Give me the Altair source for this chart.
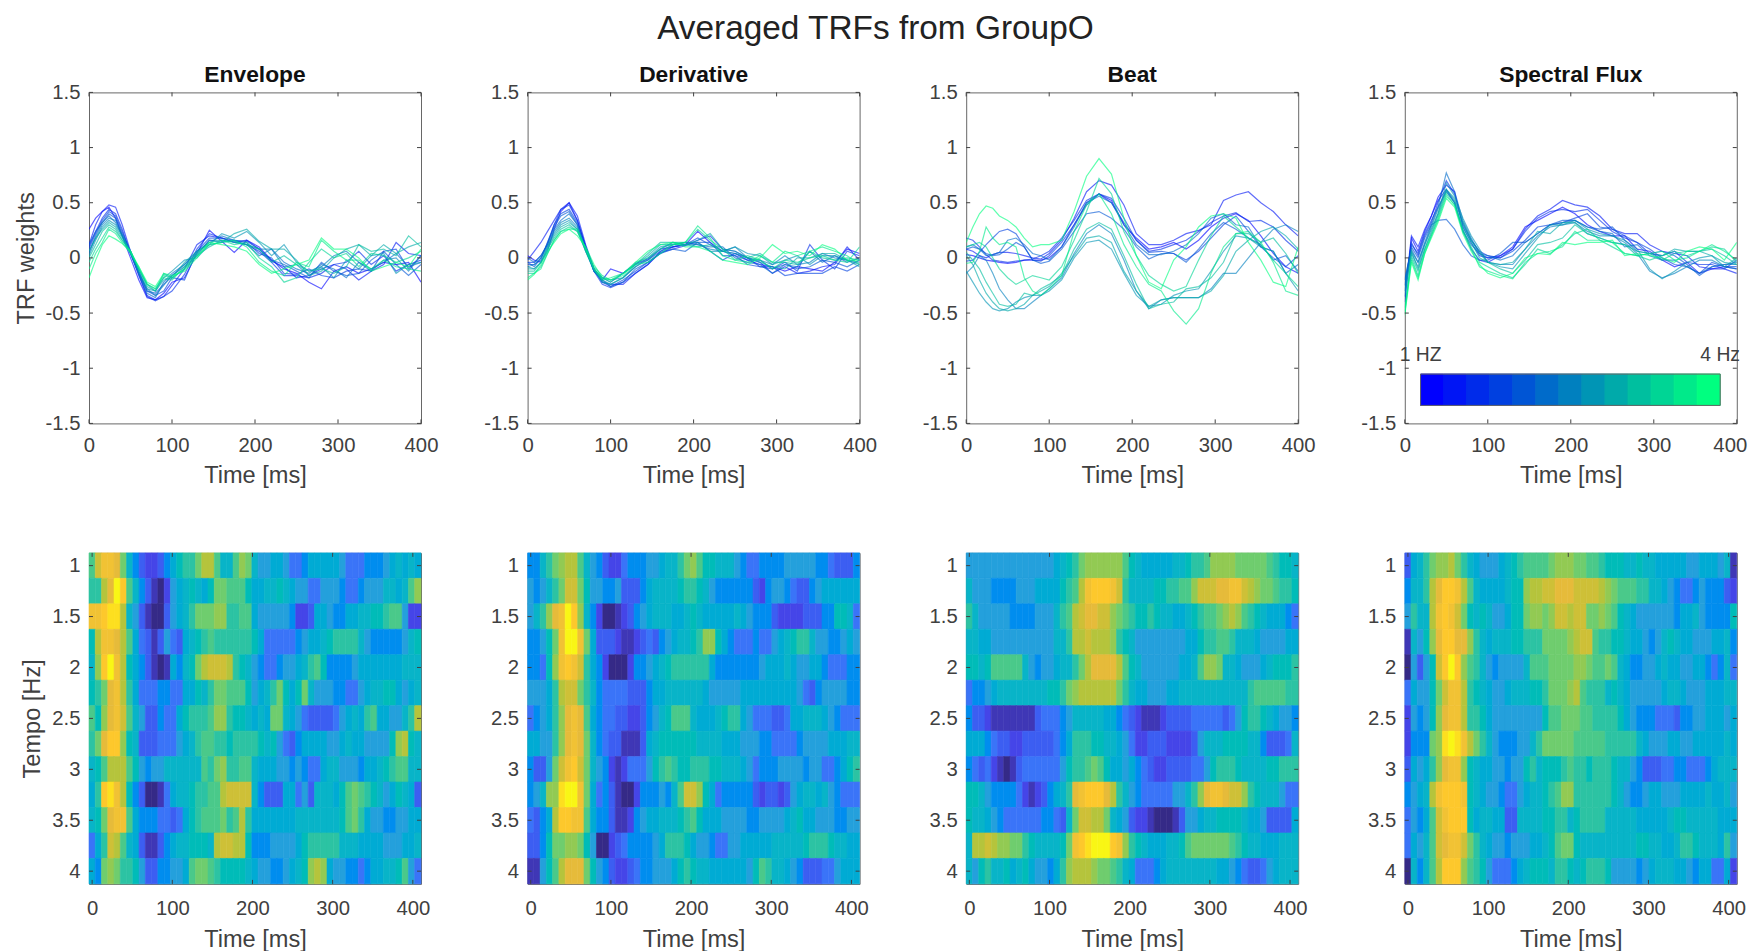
import altair as alt
import pandas as pd

alt.data_transformers.disable_max_rows()

FONT = "Liberation Sans"
INK = "#404040"
FRAME = "#666666"

PANELS = ["Envelope", "Derivative", "Beat", "Spectral Flux"]
TEMPI = [1, 1.25, 1.5, 1.75, 2, 2.25, 2.5, 2.75, 3, 3.25, 3.5, 3.75, 4]
STEP_MS = 7.8125

# Colours of the thirteen tempo lines, slow to fast
LINE_COLORS = ["#0000ff", "#0015f5", "#002bea", "#0040e0", "#0055d5", "#006bca", "#0080bf",
               "#0095b5", "#00aaaa", "#00bf9f", "#00d595", "#00ea8a", "#00ff80"]

# Parula-like ramp for the heat maps
LEVELS = [0, 2, 4, 6, 8, 10, 12, 14, 16, 18, 20]
RAMP = ["#352a87", "#4545e8", "#3a74f8", "#24a0dc", "#08b4c8", "#2cc3a3",
        "#6fcd6e", "#b5c43c", "#e6bb3a", "#fdc82c", "#f9f615"]

# Time knots (ms) at which the line traces were read
KNOTS = [0, 8, 16, 24, 32, 40, 50, 60, 70, 80, 90, 100, 115, 130, 145, 160, 175, 190, 205, 220,
         235, 250, 265, 280, 295, 310, 325, 340, 355, 370, 385, 400]

# TRF weights x 100, one list per tempo
ENVELOPE_LINES = [
 [26,36,42,46,36,20,0,-20,-36,-38,-32,-22,-18,4,25,15,5,16,10,-2,-10,-14,-22,-28,-12,-8,-14,-10,-4,-6,-4,-22],
 [12,30,42,48,46,30,6,-15,-34,-38,-35,-25,-10,12,20,18,14,16,8,-3,-8,-18,-16,-10,-6,-10,-20,-12,-6,14,4,2],
 [10,24,36,44,40,26,4,-16,-35,-39,-35,-30,-15,8,22,18,14,12,6,-4,-16,-16,-18,-14,-6,-4,6,-6,2,-12,-6,-2],
 [8,22,34,42,38,24,5,-14,-30,-34,-30,-18,-20,6,18,18,16,14,4,0,-14,-15,-10,-16,-18,-12,-10,-12,6,8,-10,2],
 [12,24,32,40,36,22,6,-12,-30,-32,-24,-16,-8,2,16,14,16,15,8,-2,-6,-12,-18,-4,-12,-16,-14,-2,6,-6,-16,-6],
 [4,20,32,38,32,20,4,-14,-32,-36,-22,-14,-6,6,14,20,16,12,2,8,-4,-10,-14,-6,-10,-18,-4,-10,-4,4,-8,-4],
 [6,18,30,36,34,20,4,-14,-28,-34,-25,-16,-6,4,16,16,15,12,8,8,-8,-6,-16,-8,2,6,-4,-12,-2,0,-12,2],
 [2,16,28,34,30,20,6,-12,-28,-30,-18,-12,-2,0,12,22,18,24,14,2,12,-4,-12,-8,-18,-2,-10,2,4,-14,-6,-4],
 [6,18,26,32,28,18,6,-10,-26,-30,-20,-18,-4,6,12,14,22,26,15,8,8,-2,-16,-12,0,8,12,2,12,4,10,14],
 [0,12,24,30,26,16,6,-10,-24,-30,-14,-18,-10,2,10,16,14,12,8,-4,2,-6,-12,-10,-14,-8,12,6,8,2,20,10],
 [-4,8,18,28,24,16,6,-10,-24,-28,-18,-20,-8,4,14,16,12,14,0,-8,-22,-18,-4,8,0,4,-8,4,2,-4,0,6],
 [-10,4,14,26,22,14,4,-8,-24,-28,-16,-18,-10,2,12,14,16,10,-4,-12,-16,-4,-8,16,6,-2,-2,-10,-2,-8,-10,-12],
 [-18,-2,12,20,17,13,6,-8,-22,-26,-14,-16,-12,0,14,12,10,6,-6,-14,-10,-6,-2,18,8,8,0,-12,-8,-4,-8,8],
]
DERIVATIVE_LINES = [
 [2,-2,-4,6,26,42,50,34,10,-12,-20,-10,-14,-5,-1,8,10,12,24,14,6,4,-2,-6,-8,-12,-8,-10,-12,-4,8,4],
 [-2,6,14,24,34,44,50,38,12,-10,-22,-24,-24,-14,-6,5,8,11,16,20,8,6,0,-4,-14,-8,-14,-12,-8,-6,10,-2],
 [-4,-4,2,12,30,44,48,34,10,-12,-24,-27,-22,-14,-6,6,10,12,14,6,-2,4,0,-8,-10,-4,-12,12,-2,-10,6,2],
 [-6,-6,-2,14,30,40,44,32,10,-10,-22,-26,-20,-12,-4,4,10,12,18,12,6,2,-6,-8,-8,-16,-14,-14,-14,-8,-12,-6],
 [-4,-8,0,14,28,38,42,30,8,-12,-20,-26,-22,-10,-4,4,8,6,14,14,2,2,-2,-2,-10,-6,-10,-8,-2,-4,-8,-2],
 [0,-4,2,12,26,34,40,30,8,-12,-18,-22,-14,-6,-2,6,12,14,12,10,10,0,-4,-6,-14,-6,-8,6,-4,2,-4,0],
 [-8,-6,0,10,24,32,36,28,6,-10,-18,-20,-18,-8,-2,8,14,12,12,8,6,10,0,-2,-6,2,-6,-4,4,0,-2,-6],
 [-8,-10,-4,10,22,30,34,26,6,-12,-20,-24,-18,-8,0,10,12,14,14,6,6,10,4,2,-6,-2,2,-6,2,2,-2,-4],
 [-10,-10,-4,8,20,28,32,26,8,-10,-22,-24,-18,-6,2,12,12,12,16,22,8,6,0,-4,-8,-10,0,0,4,4,-2,-8],
 [-12,-12,-4,8,18,26,30,24,6,-10,-18,-22,-14,-6,4,14,14,12,10,12,6,4,0,4,-4,-4,-6,6,0,-2,0,-2],
 [-14,-14,-8,4,16,24,28,24,8,-8,-16,-20,-14,-4,0,8,14,14,26,16,8,-2,2,-2,-10,-2,-4,0,2,-2,-4,10],
 [-18,-14,-10,4,16,24,26,26,8,-10,-20,-18,-14,-6,-4,4,12,14,29,18,2,-2,-4,2,-4,6,2,6,10,6,2,-6],
 [-20,-15,-6,6,14,22,26,20,10,-6,-18,-20,-16,-4,6,12,14,10,10,6,-2,-4,-6,0,12,4,6,2,12,8,-2,-2],
]
BEAT_LINES = [
 [3,2,0,-2,-3,-4,-5,-4,-2,-2,-2,0,10,30,48,58,52,30,18,8,10,14,8,16,28,36,40,34,20,4,-8,-14],
 [8,6,2,0,3,5,5,4,2,0,-1,4,16,36,60,70,66,48,22,12,12,16,22,25,30,52,57,60,50,42,30,20],
 [18,16,10,3,-2,-3,-4,-3,-2,-1,2,6,18,34,52,58,50,32,16,6,8,12,16,24,32,38,41,33,34,28,16,6],
 [-3,-2,5,12,18,24,26,22,10,-2,-3,2,14,30,50,58,54,36,16,5,6,4,-2,6,18,30,38,24,10,0,-8,2],
 [8,10,8,4,2,3,8,14,10,-2,-5,-3,8,24,40,42,36,26,10,-1,4,4,-4,8,22,32,26,18,12,-2,2,-12],
 [10,12,8,2,3,5,16,18,12,4,2,-2,10,28,50,56,50,30,12,3,3,6,12,22,36,40,30,28,10,6,-14,-6],
 [-14,-8,2,-2,-14,-28,-38,-46,-46,-40,-34,-28,-18,4,22,30,22,-2,-30,-46,-38,-36,-36,-36,-28,-14,-14,0,14,26,30,24],
 [-12,-22,-32,-40,-46,-48,-46,-40,-36,-34,-34,-30,-20,0,14,16,8,-14,-34,-44,-42,-34,-30,-28,-12,6,20,18,10,6,-14,-30],
 [2,-6,-20,-32,-40,-46,-48,-46,-42,-34,-30,-26,-14,2,18,20,14,-12,-30,-44,-38,-36,-36,-36,-30,-16,6,16,24,28,20,8],
 [5,-2,-10,-22,-32,-42,-44,-42,-32,-34,-28,-24,-16,8,26,32,26,2,-24,-46,-42,-40,-28,-26,-18,-4,22,22,14,18,4,-14],
 [10,12,14,10,0,-10,-18,-24,-20,-16,-18,-20,-8,16,42,72,58,24,2,-16,-24,-30,-26,-2,20,38,28,18,12,-2,-14,-26],
 [-5,-4,6,28,18,12,14,10,-18,-30,-34,-28,-16,24,48,58,40,12,-8,-24,-30,-48,-60,-46,-14,10,22,24,14,-4,-30,-34],
 [14,28,40,47,45,38,34,28,18,10,12,12,16,42,74,90,76,36,2,-22,-28,-2,10,28,38,40,36,14,-2,-22,-26,10],
]
FLUX_LINES = [
 [-40,18,6,24,38,55,66,60,28,14,2,0,2,10,28,34,40,46,40,30,24,20,20,8,6,-2,-8,-4,-14,-10,-8,-10],
 [-35,20,10,26,38,52,62,50,25,8,-2,-4,2,8,26,38,44,52,48,46,38,26,22,22,12,6,4,2,-8,-10,-10,-14],
 [-30,14,2,20,32,50,70,58,30,16,6,2,0,8,24,36,42,44,42,44,34,24,18,14,4,2,6,-4,-6,-6,-10,-2],
 [-25,12,4,22,34,46,60,50,24,12,4,0,0,6,16,28,30,32,36,40,28,26,20,14,8,0,-6,-8,-14,-4,-8,-8],
 [-20,10,0,18,30,34,35,26,12,2,-2,-2,4,14,14,22,30,34,34,28,26,28,16,6,4,6,2,-6,-16,-8,-6,-4],
 [-20,8,-4,14,30,46,77,60,34,18,4,2,-2,2,14,22,30,32,34,28,24,22,10,12,2,-2,-2,-8,-14,-8,-6,-6],
 [-25,6,-4,12,28,44,62,52,32,16,6,-4,-6,-6,8,20,28,30,32,24,20,20,14,4,-12,-18,-14,-8,-2,-2,-8,-10],
 [-30,4,-8,12,26,40,68,56,36,20,8,-4,-8,-10,4,18,30,30,34,26,22,20,16,8,-10,-19,-12,-4,0,2,-8,0],
 [-35,6,-10,8,24,40,62,54,32,16,4,-4,-6,-4,8,24,22,32,32,22,18,14,12,2,4,2,8,6,6,2,-4,-6],
 [-45,2,-12,8,22,38,60,50,28,14,0,-4,-10,-14,-2,12,14,18,30,22,18,14,12,6,4,-2,4,6,6,8,2,-6],
 [-48,0,-16,6,20,36,58,48,26,10,-4,-8,-14,-18,-6,8,4,12,22,26,16,10,4,2,-2,2,6,2,6,10,8,-4],
 [-50,-2,-18,4,20,34,56,48,24,8,-8,-12,-16,-19,-4,4,6,10,24,16,16,14,4,2,4,6,-2,0,6,12,6,-2],
 [-52,-4,-20,4,18,32,54,46,22,6,-6,-14,-18,-14,0,4,3,14,12,14,14,16,2,4,2,0,-4,6,10,8,-2,14],
]

# Heat-map colour levels, one list per tempo row, 53 time columns
ENVELOPE_HEAT = [
 [11,15,17,17,16, 12,8,5,3,2, 2,3,5,7,9, 10,10,12,14,14, 11,8,8,11,13, 12,8,6,6,7, 7,6,4,4,5, 7,7,7,7,7, 6,4,4,4,5, 5,5,6,7,8, 7,8,7],
 [10,10,14,16,20, 18,11,8,5,3, 1,0,2,6,7, 8,9,8,7,9, 12,12,11,11,11, 9,7,7,8,8, 9,8,7,6,6, 4,4,6,6,6, 5,4,4,5,6, 6,6,8,8,7, 8,11,13],
 [17,17,18,19,19, 14,8,6,3,1, 0,0,3,6,7, 8,10,12,12,12, 13,13,10,10,11, 11,7,6,6,6, 6,6,5,2,2, 3,7,7,6,5, 5,7,7,8,8, 9,9,10,11,11, 6,2,2],
 [9,14,17,17,16, 14,11,7,4,3, 1,3,6,4,3, 7,8,9,10,11, 10,10,10,10,10, 10,9,7,4,4, 4,4,4,5,6, 7,7,8,9,10, 10,10,10,8,6, 5,5,5,5,5, 6,8,9],
 [8,13,18,20,17, 14,9,7,5,3, 1,0,1,7,5, 8,9,12,14,15, 15,15,14,10,9, 8,6,5,4,4, 5,6,6,7,8, 10,11,9,5,5, 5,5,6,7,7, 7,7,7,7,7, 8,8,8],
 [9,10,12,16,17, 14,10,7,4,4, 4,5,5,4,4, 7,7,9,8,10, 12,12,11,11,11, 9,6,7,8,10, 12,9,7,9,12, 8,6,6,6,5, 5,4,4,6,7, 8,8,9,9,7, 6,7,8],
 [11,9,13,16,17, 15,11,8,6,3, 3,5,4,4,7, 9,10,10,10,11, 13,13,10,9,9, 8,7,8,7,12, 12,8,7,6,4, 3,3,3,3,4, 6,7,8,7,10, 11,7,7,6,6, 8,10,14],
 [10,12,16,18,18, 13,9,8,3,3, 3,4,4,4,6, 7,8,10,11,11, 10,10,9,10,10, 10,10,9,8,9, 6,4,3,5,7, 7,7,7,6,6, 7,8,7,7,6, 6,6,6,9,13, 14,9,8],
 [8,9,11,14,14, 14,11,9,6,5, 6,6,8,8,8, 8,8,8,11,10, 12,13,10,10,11, 11,8,7,7,7, 6,6,5,6,5, 4,4,7,8,8, 6,6,6,5,7, 7,8,9,10,11, 11,8,8],
 [7,10,18,19,17, 14,9,5,3,0, 0,1,4,7,8, 8,9,10,10,11, 11,14,15,15,15, 15,8,5,3,3, 3,7,7,4,6, 3,8,8,8,7, 9,11,12,11,10, 9,8,6,7,9, 8,7,3],
 [8,9,12,16,17, 17,11,7,5,5, 5,4,4,3,4, 7,9,10,11,11, 11,12,10,11,14, 10,7,7,7,7, 7,7,7,8,8, 8,8,8,8,8, 9,11,12,10,7, 6,6,5,5,6, 6,7,7],
 [4,7,10,15,14, 11,8,7,3,1, 1,3,5,7,8, 8,9,9,9,8, 14,15,15,14,14, 9,5,5,5,6, 6,6,6,7,9, 10,10,10,10,10, 8,8,8,7,7, 7,7,6,6,6, 7,7,8],
 [7,5,12,13,12, 10,10,9,6,3, 3,5,5,6,6, 7,11,12,12,11, 10,9,9,9,9, 8,7,6,6,5, 5,6,7,8,9, 13,14,13,7,6, 6,5,5,4,5, 7,7,8,8,9, 11,6,4],
]
DERIVATIVE_HEAT = [
 [5,5,8,10,12, 13,14,14,11,8, 6,5,3,2,2, 4,5,5,5,6, 6,7,8,8,10, 12,13,11,9,9, 8,8,8,6,5, 4,4,5,5,5, 5,6,6,6,6, 6,5,5,4,3, 3,3,5],
 [6,5,6,8,10, 12,15,15,12,9, 6,6,5,5,6, 3,3,3,5,7, 8,8,8,8,9, 10,10,9,8,6, 5,5,5,5,5, 5,3,2,5,6, 6,5,4,3,3, 5,6,7,7,7, 7,7,7],
 [6,8,10,13,16, 17,20,18,13,8, 5,2,0,0,1, 2,3,5,6,7, 8,8,8,7,7, 8,9,8,7,7, 7,7,7,8,7, 6,5,5,5,3, 2,2,2,2,3, 3,3,5,5,9, 9,8,4],
 [5,5,6,9,12, 17,20,20,17,12, 7,3,3,3,2, 1,1,2,3,4, 3,5,6,7,8, 8,9,10,13,13, 9,7,5,4,4, 4,5,4,4,6, 7,8,9,10,10, 8,6,6,5,5, 6,7,6],
 [5,5,4,9,13, 17,18,17,15,10, 7,5,2,0,0, 0,2,5,5,6, 7,8,9,10,10, 10,10,10,10,7, 5,5,5,5,5, 5,5,6,7,7, 7,8,7,6,6, 7,7,5,4,4, 4,5,5],
 [6,6,6,7,10, 14,15,15,12,10, 8,5,4,4,4, 4,3,3,3,5, 7,7,8,8,8, 8,8,8,7,6, 6,6,6,6,7, 7,7,7,7,7, 7,7,7,6,4, 3,5,6,6,6, 6,5,5],
 [4,5,6,7,10, 13,16,17,16,11, 7,5,4,4,3, 3,2,2,3,5, 6,8,9,11,11, 11,8,7,7,7, 8,9,10,10,7, 6,4,4,4,3, 3,4,7,7,8, 8,8,7,6,5, 4,4,4],
 [7,7,6,6,10, 13,16,17,16,12, 8,5,4,3,3, 1,1,1,3,7, 8,9,9,9,9, 9,9,8,8,8, 8,7,7,7,6, 6,6,5,5,4, 4,4,4,5,6, 6,6,6,7,7, 7,8,8],
 [5,3,3,6,12, 15,17,18,15,12, 8,6,5,2,1, 2,4,4,4,6, 9,10,11,10,9, 9,10,10,10,9, 9,8,8,8,7, 6,4,5,5,5, 6,6,6,6,5, 6,6,4,4,5, 7,9,10],
 [5,6,8,13,13, 19,20,20,17,12, 7,4,5,3,1, 0,0,2,5,5, 5,6,5,8,11, 15,15,13,9,7, 4,5,5,5,5, 5,3,2,3,3, 2,3,6,7,8, 8,7,8,6,5, 4,4,4],
 [4,3,5,7,14, 18,18,17,17,11, 7,5,5,3,1, 1,2,5,6,7, 7,8,8,8,9, 10,11,9,7,7, 7,6,6,6,6, 5,5,6,6,6, 6,7,8,9,7, 7,6,6,6,5, 5,6,6],
 [3,3,5,9,12, 12,13,13,12,9, 6,0,0,2,3, 4,5,5,5,5, 6,7,10,10,10, 9,7,6,6,5, 4,4,6,6,7, 7,7,7,7,8, 8,8,8,8,9, 10,10,10,9,8, 8,7,7],
 [1,1,6,9,11, 14,16,16,16,12, 9,6,5,3,2, 2,3,4,5,5, 6,6,6,7,9, 10,9,8,8,7, 7,7,7,7,7, 6,9,11,10,8, 8,7,6,5,3, 3,3,4,4,6, 7,7,7],
]
BEAT_HEAT = [
 [6,6,6,6,6, 6,6,6,6,6, 6,6,6,6,7, 8,9,10,12,13, 13,13,13,13,13, 11,9,8,7,7, 7,7,7,8,8, 9,10,10,11,13, 13,13,13,12,12, 12,12,12,11,10, 9,9,8],
 [8,6,6,6,5, 5,5,5,6,6, 6,7,7,7,7, 9,10,11,14,17, 18,18,18,17,15, 10,8,8,8,8, 9,9,10,10,11, 11,13,15,15,15, 16,16,17,17,15, 14,13,12,12,11, 10,10,9],
 [10,8,6,6,6, 6,6,5,5,5, 5,6,6,6,8, 10,11,14,15,16, 16,15,15,13,12, 11,10,9,9,10, 9,8,8,7,7, 8,9,10,11,11, 12,13,14,13,11, 10,9,8,7,7, 7,5,4],
 [8,8,7,7,6, 6,6,6,6,6, 6,6,6,6,8, 8,10,14,14,15, 14,14,14,13,10, 9,8,6,6,6, 6,6,6,6,6, 7,7,9,10,10, 11,11,10,8,8, 8,7,6,6,6, 6,7,7],
 [9,9,8,9,11, 11,11,11,11,8, 6,5,6,6,7, 8,8,10,12,14, 16,16,16,16,14, 11,9,8,6,6, 6,6,6,6,7, 7,8,11,13,13, 12,8,8,7,6, 6,6,7,8,9, 9,9,10],
 [4,5,5,6,7, 8,8,8,8,8, 8,8,8,9,9, 10,12,13,14,14, 14,14,14,14,12, 10,8,7,7,6, 6,6,7,7,8, 8,8,8,8,8, 8,8,8,8,8, 10,11,11,11,11, 11,10,10],
 [5,3,3,2,1, 1,1,1,1,1, 1,3,4,4,4, 5,6,8,8,8, 8,8,7,7,5, 4,3,2,1,1, 1,2,3,3,3, 3,4,4,4,4, 4,3,4,6,9, 10,10,9,8,7, 6,6,5],
 [7,7,7,5,4, 3,3,2,2,3, 3,3,3,3,4, 5,7,10,10,10, 9,9,8,8,7, 6,4,2,2,3, 3,3,2,2,2, 2,3,6,8,8, 8,9,9,9,9, 8,8,5,3,3, 3,4,8],
 [5,4,3,4,2, 1,0,1,3,4, 4,4,4,4,4, 6,9,10,10,11, 12,11,9,7,7, 6,7,5,4,3, 2,2,3,3,3, 3,4,4,6,9, 10,10,10,9,8, 8,8,8,9,9, 10,10,10],
 [9,9,8,6,5, 5,5,5,4,2, 1,2,3,5,7, 8,10,16,17,18, 18,18,16,14,10, 8,6,5,4,4, 4,4,4,6,6, 8,10,13,16,17, 17,16,15,15,13, 10,9,8,8,8, 6,4,4],
 [9,8,8,7,6, 5,4,4,4,4, 4,4,5,5,4, 3,8,12,15,15, 14,14,12,8,7, 6,3,2,2,1, 0,0,0,1,3, 6,6,7,8,8, 9,9,9,9,8, 7,7,6,3,3, 3,3,7],
 [8,14,14,15,14, 13,13,12,12,10, 9,8,8,8,8, 9,12,17,18,19, 20,20,20,18,17, 13,10,9,8,7, 7,7,8,8,9, 11,12,12,12,12, 12,12,11,10,9, 8,8,7,7,7, 8,8,8],
 [8,6,9,10,8, 8,9,7,8,9, 7,6,6,5,7, 10,13,14,14,14, 13,12,12,11,10, 8,7,4,4,4, 5,7,8,8,8, 8,8,8,8,8, 7,7,6,5,4, 3,3,4,6,7, 8,8,8],
]
FLUX_HEAT = [
 [3,7,8,10,12, 13,13,14,12,10, 8,7,6,6,6, 7,8,9,10,11, 11,11,11,12,13, 13,13,12,12,11, 11,10,9,9,9, 8,8,9,8,8, 7,7,7,7,7, 6,6,7,7,7, 6,8,1],
 [5,8,8,10,14, 16,18,18,17,14, 11,8,7,7,7, 7,8,9,9,13, 14,14,15,15,16, 16,16,15,15,15, 15,14,13,12,11, 11,11,10,10,8, 8,7,6,5,4, 4,5,6,5,5, 5,3,2],
 [6,10,8,8,14, 17,18,17,15,12, 9,8,9,8,6, 6,7,9,9,12, 13,13,12,13,15, 15,14,15,15,12, 12,13,12,11,9, 8,7,6,6,6, 6,6,6,5,7, 7,8,6,5,5, 5,5,9],
 [1,8,6,9,13, 16,18,18,16,16, 13,10,8,7,8, 8,8,9,9,10, 10,10,12,12,12, 12,13,14,15,15, 11,10,10,9,9, 8,7,7,6,5, 6,8,9,8,7, 7,6,6,6,7, 7,8,5],
 [0,6,3,6,9, 15,18,20,18,13, 11,10,8,6,5, 6,6,6,6,8, 11,11,11,12,12, 12,12,13,13,12, 11,11,12,11,8, 7,5,5,6,6, 7,8,7,7,6, 6,7,7,5,4, 5,8,4],
 [4,7,6,6,9, 12,15,17,17,14, 10,9,8,7,6, 6,7,8,8,8, 9,9,10,12,12, 12,13,14,11,10, 10,10,8,9,8, 7,6,6,6,6, 6,7,8,8,7, 6,6,6,7,7, 7,8,8],
 [2,6,5,6,9, 13,16,17,17,14, 10,10,9,7,6, 6,6,6,6,6, 6,6,9,11,11, 12,12,12,11,11, 10,10,10,10,9, 7,6,5,5,5, 4,4,4,3,5, 5,6,6,7,7, 7,6,7],
 [2,5,5,5,12, 13,19,20,19,17, 14,12,10,8,6, 5,5,5,6,6, 8,10,12,12,12, 12,12,11,11,11, 11,11,10,10,10, 10,10,8,7,6, 6,6,7,7,6, 6,7,7,7,7, 7,8,7],
 [3,7,6,7,10, 13,16,17,17,13, 9,8,7,7,6, 6,5,6,6,9, 10,8,9,9,9, 10,11,10,10,9, 10,10,10,9,8, 8,6,5,3,3, 3,4,4,5,5, 4,4,4,5,7, 8,8,8],
 [5,6,7,8,14, 17,18,18,18,17, 9,8,7,6,6, 5,4,4,6,7, 8,8,9,10,11, 13,13,10,10,10, 10,10,10,9,8, 6,5,5,6,7, 7,6,6,6,7, 7,7,7,8,7, 7,8,6],
 [4,6,5,7,11, 15,17,18,18,18, 9,7,8,8,7, 7,3,3,8,8, 8,8,9,9,10, 10,8,9,10,10, 10,10,8,8,8, 8,8,7,7,7, 7,7,8,9,9, 8,8,8,8,8, 7,7,7],
 [4,7,6,8,11, 15,16,17,17,15, 12,10,8,7,6, 6,5,6,6,6, 7,7,8,9,11, 12,12,9,8,8, 8,8,8,8,8, 8,8,9,9,8, 8,7,7,8,10, 10,9,8,8,8, 7,10,6],
 [0,8,5,8,11, 14,18,18,18,13, 11,10,9,6,4, 4,4,5,7,8, 9,9,9,8,10, 10,9,8,9,10, 10,10,9,6,6, 6,6,5,6,7, 8,8,8,7,7, 6,5,7,7,4, 4,7,2],
]

LINES = [ENVELOPE_LINES, DERIVATIVE_LINES, BEAT_LINES, FLUX_LINES]
HEATS = [ENVELOPE_HEAT, DERIVATIVE_HEAT, BEAT_HEAT, FLUX_HEAT]

TIME_TICKS = [0, 100, 200, 300, 400]
WEIGHT_TICKS = [-1.5, -1, -0.5, 0, 0.5, 1, 1.5]
TEMPO_TICKS = [1, 1.5, 2, 2.5, 3, 3.5, 4]

W, H = 332, 331
TICK = 4
LABEL_SIZE = 20.3
TITLE_SIZE = 23.6


def axis(title, ticks, pad, tpad, **extra):
    return alt.Axis(title=title, values=ticks, ticks=False, domain=False, grid=False,
                    labelFont=FONT, labelFontSize=LABEL_SIZE, labelColor=INK, labelPadding=pad,
                    labelExpr="toString(datum.value)", labelFlush=False, labelOverlap=False,
                    titleFont=FONT, titleFontSize=TITLE_SIZE, titleColor=INK, titleFontWeight="normal",
                    titlePadding=tpad, **extra)


def inner_ticks(xs, ys, xa, ya, xticks, yticks):
    tx = pd.DataFrame({"v": xticks})
    ty = pd.DataFrame({"v": yticks})
    sel = alt.X("v:Q", scale=xs, axis=xa)
    sely = alt.Y("v:Q", scale=ys, axis=ya)
    rule = dict(color=INK, strokeWidth=1)
    return [
        alt.Chart(tx).mark_rule(**rule).encode(x=sel, y=alt.value(0), y2=alt.value(TICK)),
        alt.Chart(tx).mark_rule(**rule).encode(x=sel, y=alt.value(H), y2=alt.value(H - TICK)),
        alt.Chart(ty).mark_rule(**rule).encode(y=sely, x=alt.value(0), x2=alt.value(TICK)),
        alt.Chart(ty).mark_rule(**rule).encode(y=sely, x=alt.value(W), x2=alt.value(W - TICK)),
    ]


def line_panel(p):
    rows = []
    for i, curve in enumerate(LINES[p]):
        for t, v in zip(KNOTS, curve):
            rows.append({"t": t, "w": v / 100, "tempo": TEMPI[i]})
    df = pd.DataFrame(rows)
    xs = alt.Scale(domain=[0, 400], nice=False, zero=False)
    ys = alt.Scale(domain=[-1.5, 1.5], nice=False, zero=False)
    # the last label of the last panel is nudged so that the page stays unscaled
    extra = {"labelOffset": {"condition": {"test": "datum.value === 400", "value": -7}, "value": 0}} if p == 3 else {}
    xa = axis("Time [ms]", TIME_TICKS, 12, 8, **extra)
    ya = axis("TRF weights" if p == 0 else None, WEIGHT_TICKS, 9, 7)
    lc = alt.Scale(domain=TEMPI, range=LINE_COLORS)
    lines = alt.Chart(df).mark_line(strokeWidth=1.2, opacity=0.62, clip=True).encode(
        x=alt.X("t:Q", scale=xs, axis=xa),
        y=alt.Y("w:Q", scale=ys, axis=ya),
        color=alt.Color("tempo:O", scale=lc, legend=None),
    )
    layers = [lines] + inner_ticks(xs, ys, xa, ya, TIME_TICKS, WEIGHT_TICKS)
    if p == 3:
        edges = [19, 46.8, 74.5, 102.3, 130.1, 157.9, 185.6, 213.4, 241.2, 269, 296.7, 324.5, 352.3, 380]
        leg = pd.DataFrame({"a": edges[:-1], "b": edges[1:], "lo": -1.337, "hi": -1.053, "tempo": TEMPI})
        layers.append(alt.Chart(leg).mark_rect().encode(
            x=alt.X("a:Q", scale=xs, axis=xa), x2="b:Q",
            y=alt.Y("lo:Q", scale=ys, axis=ya), y2="hi:Q",
            color=alt.Color("tempo:O", scale=lc, legend=None),
            stroke=alt.Color("tempo:O", scale=lc, legend=None),
        ))
        box = pd.DataFrame({"a": [19], "b": [380], "lo": [-1.337], "hi": [-1.053]})
        layers.append(alt.Chart(box).mark_rect(fillOpacity=0, stroke=FRAME, strokeWidth=1).encode(
            x=alt.X("a:Q", scale=xs, axis=xa), x2="b:Q",
            y=alt.Y("lo:Q", scale=ys, axis=ya), y2="hi:Q"))
        notes = pd.DataFrame({"t": [19, 380], "w": [-0.88, -0.88], "s": ["1 HZ", "4 Hz"]})
        layers.append(alt.Chart(notes).mark_text(font=FONT, fontSize=19.3, color=INK, align="center", baseline="middle").encode(
            x=alt.X("t:Q", scale=xs, axis=xa), y=alt.Y("w:Q", scale=ys, axis=ya), text="s:N"))
    return alt.layer(*layers).properties(
        width=W, height=H,
        title=alt.TitleParams(PANELS[p], font=FONT, fontSize=22.8, fontWeight="bold", color="#111111", offset=-4.5),
    )


def heat_panel(p):
    rows = []
    for i, row in enumerate(HEATS[p]):
        for k, lv in enumerate(row):
            t = k * STEP_MS
            rows.append({"x0": t - STEP_MS / 2, "x1": t + STEP_MS / 2,
                         "y0": TEMPI[i] - 0.125, "y1": TEMPI[i] + 0.125, "lv": lv})
    df = pd.DataFrame(rows)
    xs = alt.Scale(domain=[-3.9, 410.2], nice=False, zero=False)
    ys = alt.Scale(domain=[0.875, 4.125], nice=False, zero=False, reverse=True)
    cs = alt.Scale(domain=LEVELS, range=RAMP)
    xa = axis("Time [ms]", TIME_TICKS, 14.5, 8.5)
    ya = axis("Tempo [Hz]" if p == 0 else None, TEMPO_TICKS, 9, 7)
    rects = alt.Chart(df).mark_rect(strokeWidth=0.6).encode(
        x=alt.X("x0:Q", scale=xs, axis=xa),
        x2="x1:Q",
        y=alt.Y("y0:Q", scale=ys, axis=ya),
        y2="y1:Q",
        color=alt.Color("lv:Q", scale=cs, legend=None),
        stroke=alt.Color("lv:Q", scale=cs, legend=None),
    )
    return alt.layer(rects, *inner_ticks(xs, ys, xa, ya, TIME_TICKS, TEMPO_TICKS)).properties(width=W, height=H)


panels = [line_panel(p) for p in range(4)] + [heat_panel(p) for p in range(4)]

chart = alt.concat(*panels, columns=4).properties(
    spacing={"row": 129.5, "column": 106.6},
    bounds="flush",
    padding={"left": 5, "top": 3.4, "right": 0, "bottom": 0},
    title=alt.TitleParams("Averaged TRFs from GroupO", font=FONT, fontSize=33.4, fontWeight="normal",
                          color="#222222", anchor="middle", dx=-5, offset=17.6),
).configure_view(stroke=FRAME, strokeWidth=1)

chart.save("out.html", embed_options={"renderer": "svg", "actions": False})
